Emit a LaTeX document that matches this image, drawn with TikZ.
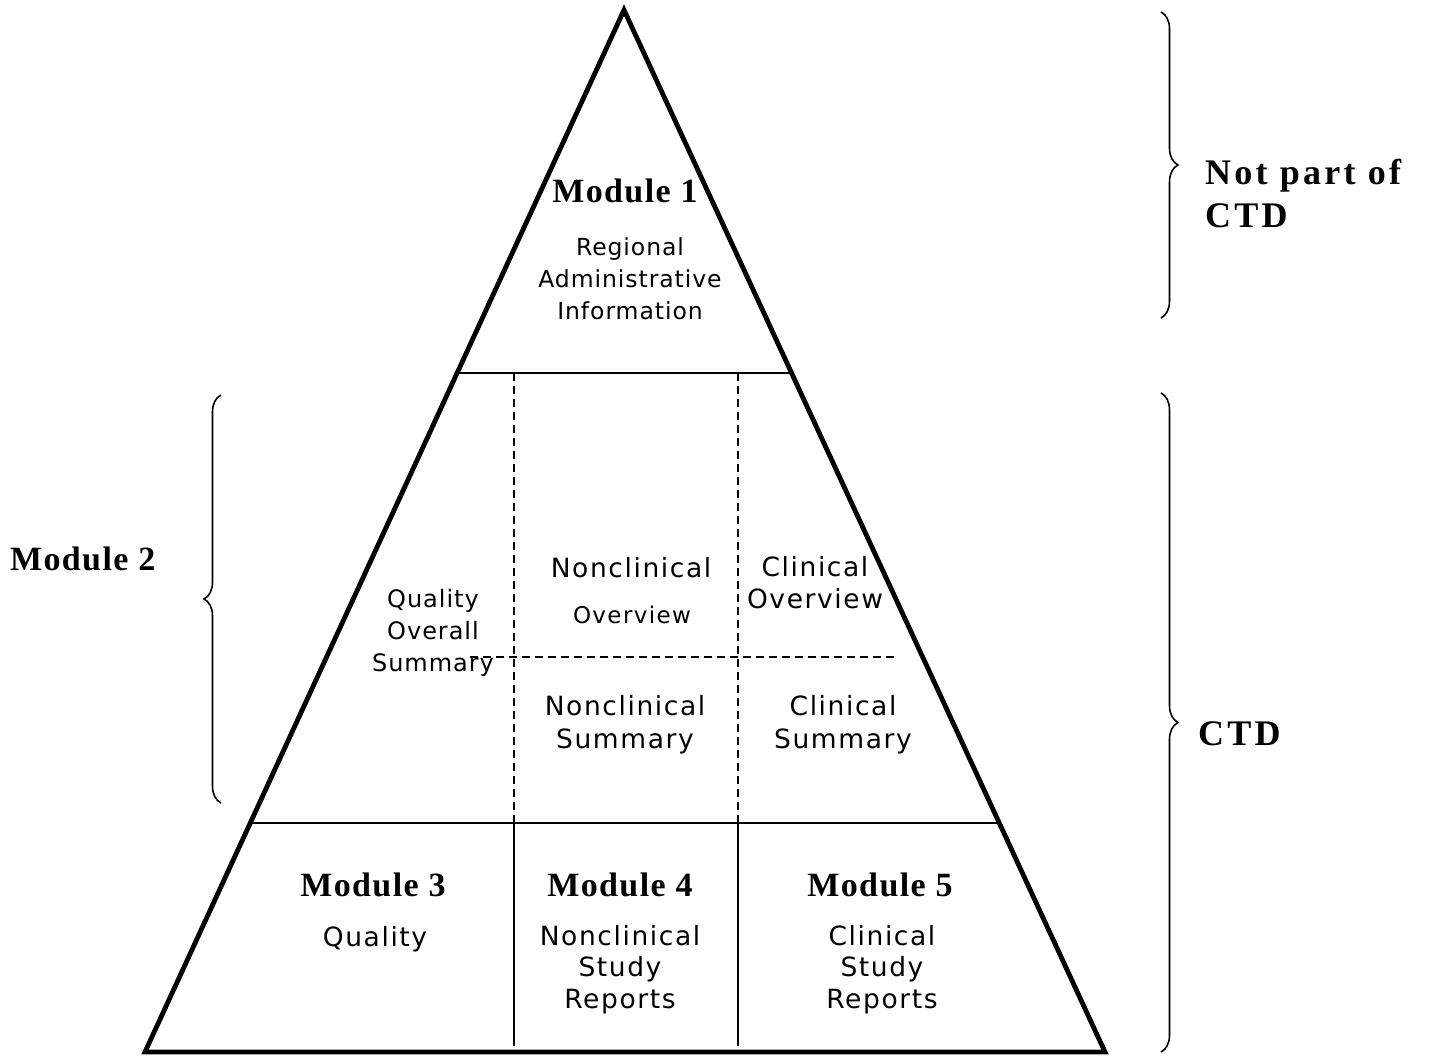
\documentclass[tikz,border=0pt]{standalone}
\usepackage{fontspec}
\setmainfont{Liberation Serif}
\newfontfamily\serb[LetterSpace=4]{Liberation Serif}
\newfontfamily\serw[LetterSpace=9]{Liberation Serif}
\newfontfamily\sansf[LetterSpace=6]{DejaVu Sans}
\newfontfamily\sansg[LetterSpace=4]{DejaVu Sans}
\usetikzlibrary{calc,decorations.pathreplacing}
\tikzset{
  edge/.style={line width=4.8pt, line join=miter},
  divider/.style={line width=1.6pt},
  dividerdash/.style={line width=1.4pt, dash pattern=on 8pt off 5pt},
  modlabel/.style={font=\serb\bfseries\fontsize{34}{38}\selectfont, anchor=base, inner sep=0pt},
  sidelabel/.style={font=\serw\bfseries\fontsize{36}{43}\selectfont, anchor=base west, align=left, inner sep=0pt},
  txt/.style={font=\sansf\fontsize{26.5}{31.5}\selectfont, align=center, anchor=base, inner sep=0pt},
  bracestyle/.style={line width=1.6pt, decorate, decoration={brace, amplitude=17pt}},
}
\begin{document}
\begin{tikzpicture}[x=1pt,y=-1pt]
\useasboundingbox (0,0) rectangle (1444,1056);
% triangle
\coordinate (A) at (624,10);
\coordinate (BL) at (145,1052);
\coordinate (BR) at (1105,1052);
\draw[edge] (A) -- (BL) -- (BR) -- cycle;
% level lines
\coordinate (L1) at ($(A)!0.3484!(BL)$);
\coordinate (R1) at ($(A)!0.3484!(BR)$);
\coordinate (L2) at ($(A)!0.7802!(BL)$);
\coordinate (R2) at ($(A)!0.7802!(BR)$);
\draw[divider] (L1) -- (R1);
\draw[divider] (L2) -- (R2);
% vertical dividers
\coordinate (v1t) at (514,373);
\coordinate (v1m) at (514,823);
\coordinate (v1b) at (514,1046);
\coordinate (v2t) at (738,373);
\coordinate (v2m) at (738,823);
\coordinate (v2b) at (738,1046);
\draw[dividerdash] (v1t) -- (v1m);
\draw[dividerdash] (v2t) -- (v2m);
\draw[divider] (v1m) -- (v1b);
\draw[divider] (v2m) -- (v2b);
\coordinate (hdl) at (470,657);
\coordinate (hdr) at (894,657);
\draw[dividerdash] (hdl) -- (hdr);
% Module 1
\node[modlabel] (m1) at (625,203) {Module 1};
\node[txt, font=\sansg\fontsize{23.5}{32}\selectfont] (m1t) at (630,320) {Regional\\Administrative\\Information};
% Module 2 contents
\node[txt, font=\sansg\fontsize{24}{32}\selectfont] (qos) at (433,671) {Quality\\Overall\\Summary};
\node[txt] (nco1) at (631,577) {Nonclinical};
\node[txt, font=\sansf\fontsize{23}{32}\selectfont] (nco2) at (632,623) {Overview};
\node[txt] (co) at (815,608) {Clinical\\Overview};
\node[txt, font=\sansf\fontsize{26.5}{33}\selectfont] (ncs) at (625,748) {Nonclinical\\Summary};
\node[txt, font=\sansf\fontsize{26.5}{33}\selectfont] (cs) at (843,748) {Clinical\\Summary};
% Modules 3-5
\node[modlabel] (m3) at (373,896) {Module 3};
\node[modlabel] (m4) at (620,896) {Module 4};
\node[modlabel] (m5) at (880,896) {Module 5};
\node[txt] (m3t) at (375,946) {Quality};
\node[txt] (m4t) at (620,1008) {Nonclinical\\Study\\Reports};
\node[txt] (m5t) at (882,1008) {Clinical\\Study\\Reports};
% braces
\coordinate (b1t) at (1161,12);
\coordinate (b1b) at (1161,318);
\draw[bracestyle] (b1t) -- (b1b);
\coordinate (b2t) at (1161,393);
\coordinate (b2b) at (1161,1052);
\draw[bracestyle] (b2t) -- (b2b);
\coordinate (b3t) at (221,395);
\coordinate (b3b) at (221,803);
\draw[bracestyle] (b3b) -- (b3t);
% side labels
\node[sidelabel] (npc) at (1205,228) {Not part of\\CTD};
\node[sidelabel] (ctd) at (1198,745) {CTD};
\node[modlabel, anchor=base west] (m2) at (10,570) {Module 2};
\end{tikzpicture}
\end{document}
